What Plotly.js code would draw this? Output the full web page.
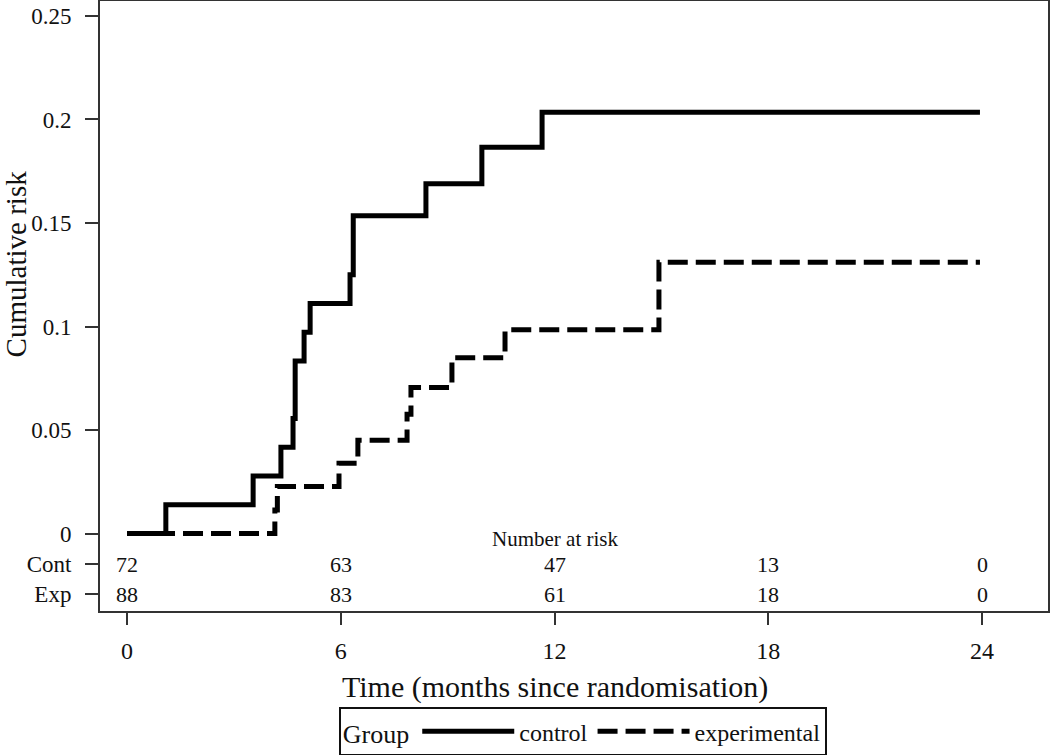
<!DOCTYPE html>
<html>
<head>
<meta charset="utf-8">
<script src="https://cdn.plot.ly/plotly-3.0.1.min.js"></script>
<style>html,body{margin:0;padding:0;background:#fff;}#chart{width:1050px;height:756px;}</style>
</head>
<body>
<div id="chart"></div>
<script>
// Control group: step times (months) and cumulative risk
const controlTime = [0, 1.09, 3.54, 4.32, 4.66, 4.72, 4.97, 5.14, 6.26, 6.35, 8.39, 9.96, 11.65, 23.94];
const controlRisk = [0, 0.0139, 0.0278, 0.0417, 0.0556, 0.0833, 0.0972, 0.1111, 0.125, 0.1535, 0.169, 0.1866, 0.2035, 0.2035];
// Experimental group
const expTime = [0, 4.15, 4.22, 5.95, 6.48, 7.86, 7.97, 9.12, 10.61, 14.93, 23.94];
const expRisk = [0, 0.0114, 0.0227, 0.034, 0.0451, 0.0576, 0.0705, 0.0849, 0.0984, 0.131, 0.131];

// Number at risk table
const riskTimes = [0, 6, 12, 18, 24];
const contAtRisk = [72, 63, 47, 13, 0];
const expAtRisk = [88, 83, 61, 18, 0];
const contRowY = -0.0149;
const expRowY = -0.0293;

const yTickVals = [0.25, 0.2, 0.15, 0.1, 0.05, 0, contRowY, expRowY];
const yTickText = ['0.25', '0.2', '0.15', '0.1', '0.05', '0', 'Cont', 'Exp'];
const xTickVals = [0, 6, 12, 18, 24];

const FONT = 'Liberation Serif, Times New Roman, serif';

const traces = [
  {x: controlTime, y: controlRisk, type: 'scatter', mode: 'lines', name: 'control',
   line: {shape: 'hv', color: '#000', width: 5}},
  {x: expTime, y: expRisk, type: 'scatter', mode: 'lines', name: 'experimental',
   line: {shape: 'hv', color: '#000', width: 5, dash: '20px,8px'}}
];

const annotations = [];
riskTimes.forEach((t, i) => {
  annotations.push({x: t, y: contRowY, xref: 'x', yref: 'y', text: String(contAtRisk[i]),
    showarrow: false, borderpad: 0, font: {family: FONT, size: 22, color: '#111'}});
  annotations.push({x: t, y: expRowY, xref: 'x', yref: 'y', text: String(expAtRisk[i]),
    showarrow: false, borderpad: 0, font: {family: FONT, size: 22, color: '#111'}});
});
annotations.push({x: 12, y: -0.0027, xref: 'x', yref: 'y', text: 'Number at risk',
  showarrow: false, borderpad: 0, font: {family: FONT, size: 21, color: '#111'}});
annotations.push({x: 0, xref: 'paper', xshift: -84, xanchor: 'center', y: 0.13, yref: 'y', yanchor: 'middle',
  text: 'Cumulative risk', textangle: -90, showarrow: false, borderpad: 0, font: {family: FONT, size: 29, color: '#111'}});
annotations.push({x: 12, xref: 'x', xanchor: 'center', y: 0, yref: 'paper', yshift: -76, yanchor: 'middle',
  text: 'Time (months since randomisation)', showarrow: false, font: {family: FONT, size: 30, color: '#111'}});

const layout = {
  width: 1050, height: 756,
  margin: {l: 100, r: 2, t: 1, b: 141},
  paper_bgcolor: '#fff', plot_bgcolor: '#fff',
  font: {family: FONT, color: '#111'},
  showlegend: true,
  legend: {
    orientation: 'h', x: 0.5095, xanchor: 'center', y: -0.158, yanchor: 'top',
    bordercolor: '#111', borderwidth: 1.8, bgcolor: '#fff',
    font: {family: FONT, size: 24, color: '#111'},
    title: {text: 'Group', side: 'left', font: {family: FONT, size: 26, color: '#111'}},
    itemwidth: 92, tracegroupgap: 0
  },
  xaxis: {
    range: [-0.758, 25.85], tickvals: xTickVals, ticktext: xTickVals.map(String),
    ticks: 'outside', ticklen: 12, tickwidth: 2, tickcolor: '#333',
    ticklabelstandoff: 5,
    showgrid: false, zeroline: false, showline: true, linecolor: '#333', linewidth: 2, mirror: true,
    tickfont: {family: FONT, size: 24, color: '#111'}
  },
  yaxis: {
    range: [-0.0374, 0.2572], tickvals: yTickVals, ticktext: yTickText,
    ticks: 'outside', ticklen: 13, tickwidth: 2, tickcolor: '#333',
    ticklabelstandoff: 9,
    showgrid: false, zeroline: false, showline: true, linecolor: '#333', linewidth: 2, mirror: true,
    tickfont: {family: FONT, size: 23, color: '#111'}
  },
  annotations: annotations
};

Plotly.newPlot('chart', traces, layout, {displayModeBar: false, staticPlot: true});
</script>
</body>
</html>
